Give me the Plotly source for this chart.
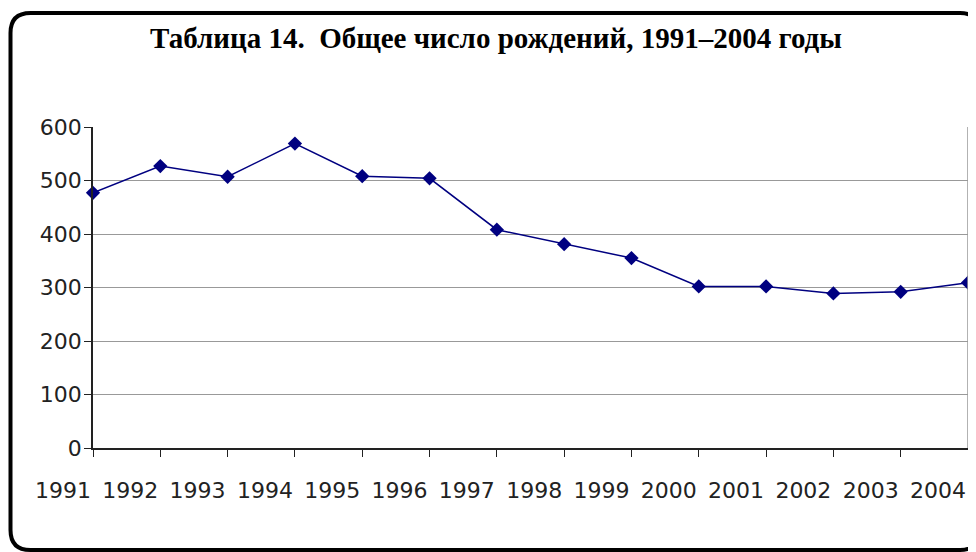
import plotly.graph_objects as go

years = [1991, 1992, 1993, 1994, 1995, 1996, 1997, 1998, 1999, 2000, 2001, 2002, 2003, 2004]
year_labels = [str(y) for y in years]
births = [477, 527, 507, 569, 508, 504, 408, 381, 355, 302, 302, 289, 292, 309]
y_ticks = [0, 100, 200, 300, 400, 500, 600]
title_text = "<b>Таблица 14.  Общее число рождений, 1991–2004 годы</b>"

# figure coordinates (page body adds an 8px offset on screen)
W, H = 976, 552
L, R, T, B = 85, 16, 119, 112
pw, ph = W - L - R, H - T - B

def px_x(x):
    return (x - L) / pw

def px_y(y):
    return (H - B - y) / ph

fig = go.Figure()
fig.add_trace(go.Scatter(
    x=years, y=births, mode="lines+markers",
    line=dict(color="#000080", width=1.5),
    marker=dict(symbol="diamond", size=11, color="#000080"),
    cliponaxis=False, showlegend=False,
))

# rounded border
x0, x1, y0, y1 = 2.5, 972, 5, 542
r = 20
path = (
    f"M {px_x(x0+r)},{px_y(y0)} L {px_x(x1-r)},{px_y(y0)} "
    f"Q {px_x(x1)},{px_y(y0)} {px_x(x1)},{px_y(y0+r)} "
    f"L {px_x(x1)},{px_y(y1-r)} Q {px_x(x1)},{px_y(y1)} {px_x(x1-r)},{px_y(y1)} "
    f"L {px_x(x0+r)},{px_y(y1)} Q {px_x(x0)},{px_y(y1)} {px_x(x0)},{px_y(y1-r)} "
    f"L {px_x(x0)},{px_y(y0+r)} Q {px_x(x0)},{px_y(y0)} {px_x(x0+r)},{px_y(y0)} Z"
)
fig.add_shape(type="path", path=path, xref="paper", yref="paper",
              line=dict(color="black", width=4), layer="above")
# plot area right border
fig.add_shape(type="line", xref="paper", yref="paper", x0=1, x1=1, y0=0, y1=1,
              line=dict(color="#999999", width=1.5))

fig.update_layout(
    width=W, height=H,
    margin=dict(l=L, r=R, t=T, b=B),
    paper_bgcolor="white", plot_bgcolor="white",
    title=dict(text=title_text, x=0.5, xanchor="center", y=1 - 30 / H, yanchor="middle",
               yref="container",
               font=dict(family="Liberation Serif", size=29, color="black")),
    font=dict(family="DejaVu Sans", size=22, color="#222222"),
    xaxis=dict(
        range=[1991, 2004], tickmode="array", tickvals=years, ticktext=year_labels,
        ticks="outside", ticklen=7, tickcolor="#222222", tickwidth=1,
        showline=True, linecolor="#222222", linewidth=1.5,
        showgrid=False, zeroline=False,
        ticklabelshift=-30, ticklabelstandoff=15,
        tickfont=dict(family="DejaVu Sans", size=22, color="#222222"),
    ),
    yaxis=dict(
        range=[0, 600], tickmode="array", tickvals=y_ticks,
        ticks="outside", ticklen=7, tickcolor="#222222", tickwidth=1,
        showline=True, linecolor="#222222", linewidth=1.5,
        showgrid=True, gridcolor="#999999", gridwidth=1,
        zeroline=False, ticklabelstandoff=-2,
        tickfont=dict(family="DejaVu Sans", size=22, color="#222222"),
    ),
)

fig.write_html("out.html")
